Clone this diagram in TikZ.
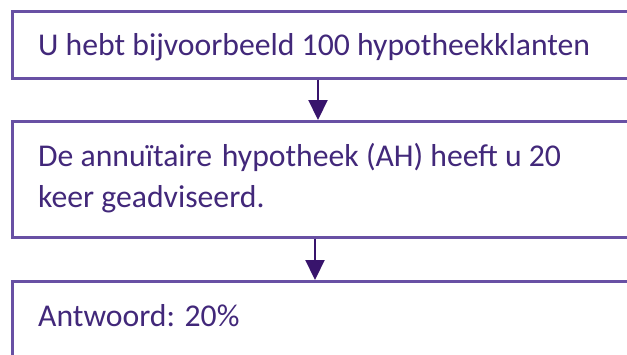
\documentclass[tikz,border=0pt]{standalone}
\usepackage{fontspec}
\setmainfont{Carlito}
\usetikzlibrary{arrows.meta}
\definecolor{boxline}{RGB}{104,80,164}
\definecolor{arrowc}{RGB}{56,20,108}
\definecolor{txt}{RGB}{66,40,122}
\tikzset{
  flowbox/.style={draw=boxline, line width=2.6pt, fill=white, rectangle, anchor=north west, inner sep=0pt},
  flowtext/.style={anchor=base west, inner sep=0pt, text=txt, font=\fontsize{31.7}{40}\selectfont},
  flowarrow/.style={draw=arrowc, line width=2.2pt, -{Triangle[width=19pt,length=20pt]}, arrowc}
}
\begin{document}
\begin{tikzpicture}[x=1pt,y=-1pt]
\useasboundingbox (0,0) rectangle (627,354);
\node[flowbox, minimum width=640pt, minimum height=67pt] (b1) at (11,10) {};
\node[flowbox, minimum width=640pt, minimum height=116pt] (b2) at (11,120) {};
\node[flowbox, minimum width=640pt, minimum height=100pt] (b3) at (11,280) {};
\node[flowtext] (t1) at (38,55) {U hebt bijvoorbeeld 100 hypotheekklanten};
\node[flowtext] (t2) at (38,166) {De annuïtaire\hspace{0.08em} hypotheek (AH) heeft u 20};
\node[flowtext] (t3) at (38,207) {keer geadviseerd.};
\node[flowtext] (t4) at (38,326) {Antwoord: 20\%};
\path (b1.south west) ++(307,0) coordinate (a1s);
\path (b2.south west) ++(304,0) coordinate (a2s);
\draw[flowarrow] (a1s) -- (a1s |- b2.north);
\draw[flowarrow] (a2s) -- (a2s |- b3.north);
\end{tikzpicture}
\end{document}
